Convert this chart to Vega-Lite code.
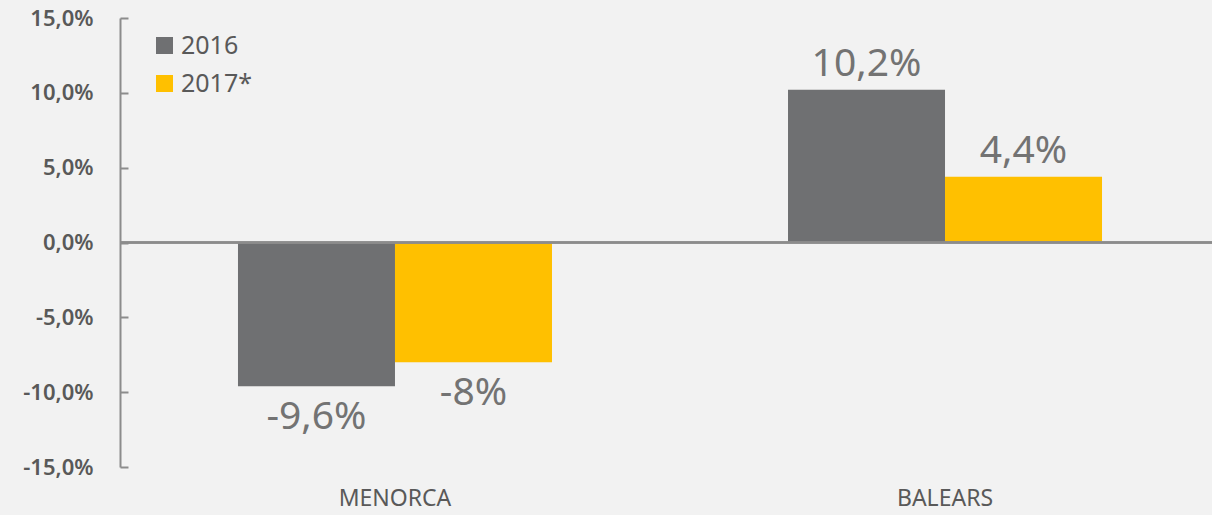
{
  "$schema": "https://vega.github.io/schema/vega-lite/v6.json",
  "width": 1100,
  "height": 449,
  "autosize": {"type": "none"},
  "padding": {"left": 120, "top": 18, "right": 0, "bottom": 48},
  "background": "#f2f2f2",
  "config": {
    "view": {"stroke": null},
    "font": "Noto Sans",
    "locale": {"number": {"decimal": ",", "thousands": ".", "grouping": [3], "currency": ["", "€"], "minus": "-"}}
  },
  "data": {
    "values": [
      {"region": "MENORCA", "year": "2016", "value": -0.096},
      {"region": "MENORCA", "year": "2017*", "value": -0.08},
      {"region": "BALEARS", "year": "2016", "value": 0.102},
      {"region": "BALEARS", "year": "2017*", "value": 0.044}
    ]
  },
  "encoding": {
    "x": {
      "field": "region", "type": "nominal", "sort": ["MENORCA", "BALEARS"],
      "scale": {"paddingInner": 0.4291, "paddingOuter": 0.2145},
      "axis": {"title": null, "domain": false, "ticks": false, "labelAngle": 0, "labelFontSize": 23, "labelColor": "#595959", "labelPadding": 20}
    },
    "xOffset": {"field": "year", "type": "nominal", "sort": ["2016", "2017*"]},
    "y": {
      "field": "value", "type": "quantitative",
      "scale": {"domain": [-0.15, 0.15], "nice": false, "zero": false},
      "axis": {"title": null, "format": ".1%", "values": [-0.15, -0.1, -0.05, 0, 0.05, 0.1, 0.15], "grid": false, "domainColor": "#8c8c8c", "domainWidth": 2, "tickColor": "#8c8c8c", "tickWidth": 2, "tickSize": -8, "labelPadding": 35, "labelFontSize": 22, "labelFontWeight": 600, "labelColor": "#595959"}
    }
  },
  "layer": [
    {
      "mark": {"type": "bar"},
      "encoding": {
        "color": {
          "field": "year", "type": "nominal",
          "scale": {"domain": ["2016", "2017*"], "range": ["#6f7072", "#ffc000"]},
          "legend": {"title": null, "orient": "none", "legendX": 35, "legendY": 15, "padding": 0, "symbolType": "square", "symbolSize": 289, "symbolStrokeWidth": 0, "symbolOffset": -3, "labelFontSize": 25, "labelColor": "#595959", "labelOffset": 4, "rowPadding": 12}
        }
      }
    },
    {
      "mark": {"type": "rule", "color": "#8c8c8c", "strokeWidth": 2},
      "encoding": {"y": {"datum": 0}, "x": null, "xOffset": null}
    },
    {
      "transform": [{"filter": "datum.value >= 0"}],
      "mark": {"type": "text", "fontSize": 39, "color": "#737373", "baseline": "alphabetic", "dy": -14},
      "encoding": {"text": {"field": "value", "type": "quantitative", "format": ".1~%"}}
    },
    {
      "transform": [{"filter": "datum.value < 0"}],
      "mark": {"type": "text", "fontSize": 39, "color": "#737373", "baseline": "alphabetic", "dy": 43},
      "encoding": {"text": {"field": "value", "type": "quantitative", "format": ".1~%"}}
    }
  ]
}
